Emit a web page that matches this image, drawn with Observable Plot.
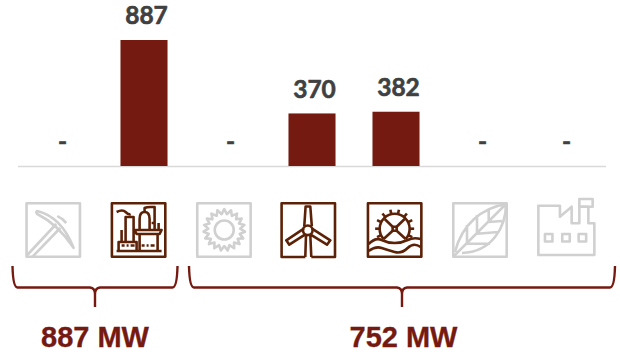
<!DOCTYPE html>
<html><head><meta charset="utf-8">
<style>html,body{margin:0;padding:0;background:#fff}svg{display:block}</style>
<script src="https://cdn.jsdelivr.net/npm/d3@7"></script>
<script src="https://cdn.jsdelivr.net/npm/@observablehq/plot@0.6"></script>
</head><body><div id="chart"></div>
<script>
const categories = ["Mining","Thermal","Solar","Wind","Hydro","Biomass","Industry"];
const values = [0,887,0,370,382,0,0];
const labels = ["-","887","-","370","382","-","-"];
const active = [false,true,false,true,true,false,false];
const groupLabels = ["887 MW","752 MW"];
const groupFirst = ["Mining","Solar"];
const groupLast = ["Thermal","Industry"];
const rows = categories.map((c,i)=>({c,v:values[i],l:labels[i]}));

const BRICK="#751a10", DARK="#5c2208", GRAY="#d0d0d0";
const box='<rect x="1.3" y="1.3" width="53.4" height="53.4"/>';
function sunPath(){let p=[];const n=19;for(let i=0;i<n*2;i++){const r=i%2?16:20.8,a=i*Math.PI/n;p.push((28.3+r*Math.sin(a)).toFixed(1)+","+(28-r*Math.cos(a)).toFixed(1));}return "M"+p.join("L")+"Z";}
function wheel(){let s="";for(let i=0;i<14;i++){const a=i*Math.PI/7;if(Math.sin(a)>0.55)continue;s+=`<path d="M${(28+15*Math.cos(a)).toFixed(1)},${(26.7+15*Math.sin(a)).toFixed(1)}L${(28+19.5*Math.cos(a)).toFixed(1)},${(26.7+19.5*Math.sin(a)).toFixed(1)}"/>`;}return s;}
const icons = {
Mining: box+'<path d="M2,53L31,22M7,55L35,26"/><path d="M12,9Q36,15 48,45Q49,47 47,44Q32,22 12,12Q10,10 12,9Z"/><path d="M32,14L37,17L41,21"/>',
Thermal: box+'<path d="M6,49H51M8,49V40H26V49M15,40V15H23V40M11,40V28M6,10Q12,7 15,10T20,12M29,49V32H47V49M24,28H51L49,32H26ZM29,28V17Q29,10 34,10Q39,10 39,17V28M34,10V6Q36,5 40,5H44V28M48,28V21M41,21H44"/><path d="M11,43.5H14M16,43.5H18M20,43.5H24M31,43.5H34M36,43.5H38M40,43.5H44" stroke-width="2.6"/>',
Solar: box+`<path d="${sunPath()}"/><circle cx="28.3" cy="28" r="9.5"/>`,
Wind: '<path d="M25,55H1.3V1.3H54.7V55H31"/><circle cx="27.5" cy="28.3" r="4.8"/><path d="M24,24L25.3,4.5H30L31.5,24M23.5,26.7L6,38.3L9,42.7L25,32.3M31.7,26.7L50,38.3L46.7,42.7L30,32.3M25.7,33L25,55M30,33L31,55"/>',
Hydro: box+'<path d="M17,37A15,15 0 1 1 39,37"/><rect x="26" y="24.7" width="4" height="4"/><path d="M18,17L26,24.7M38,17L30,24.7M26,28.7L17,37M30,28.7L39,37"/>'+wheel()+'<path d="M2,42Q9,35 15,38T28,41T41,38T54,37M2,49Q9,44 15,46T28,50T41,46T54,45"/>',
Biomass: box+'<path d="M54,2C30,6 10,22 3,50M54,2C54,25 40,50 10,51M2,54L54,2M15,41.7V23M25,31.7V13M36.7,20V7.7M15,41.7H38M25,31.7L46.7,30M36.7,20L50,19"/>',
Industry: '<path d="M1,56V6.7H22.6V17.7L34.3,7.7V24.3H42V7.7H51V24.3H57V56Z"/><rect x="42" y="0" width="13.3" height="7.7"/><rect x="7.6" y="35" width="7.5" height="7.5"/><rect x="24.9" y="35" width="7.5" height="7.5"/><rect x="41.3" y="35" width="7.5" height="7.5"/>'
};

function decorations(index,{x},values_,dims){
  const g=d3.create("svg:g");
  const c=k=>x(k)+x.bandwidth()/2;
  categories.forEach((k,i)=>{
    const cx=c(k)+(i-5)*1.35-(i===3?1:0);
    g.append("g").attr("transform",`translate(${cx-28},${i===6?199:202})`)
     .attr("fill","none").attr("stroke-width",2.6).attr("stroke",active[i]?DARK:GRAY)
     .attr("stroke-linejoin","round").html(icons[k]);
  });
  const pads=[[47.5,33.5],[39,51]];
  groupLabels.forEach((t,i)=>{
    const l=c(groupFirst[i])-pads[i][0], r=c(groupLast[i])+pads[i][1], m=(l+r)/2;
    g.append("path").attr("fill","none").attr("stroke",BRICK).attr("stroke-width",2.4)
     .attr("d",`M${l},266Q${l+.5},287.5 ${l+5},287.5H${m-5}Q${m},288 ${m},294V307M${m},294Q${m},288 ${m+5},287.5H${r-5}Q${r-.5},287.5 ${r},266`);
    g.append("text").attr("x",m+(i?1.5:0)).attr("y",347).attr("text-anchor","middle")
     .attr("font-family","Liberation Sans").attr("font-weight",700).attr("font-size",29)
     .attr("fill",BRICK).attr("stroke",BRICK).attr("stroke-width",0.3).text(t);
  });
  return g.node();
}

const chart = Plot.plot({
  width:620,height:356,
  marginLeft:18,marginRight:14,marginTop:40,marginBottom:190,
  x:{type:"band",domain:categories,paddingInner:.44,paddingOuter:.22,round:false,axis:null},
  y:{domain:[0,887],axis:null},
  marks:[
    Plot.ruleY([0],{stroke:"#d9d9d9",strokeWidth:1.3}),
    Plot.barY(rows,{x:"c",y:"v",fill:BRICK}),
    Plot.text(rows,{x:"c",y:"v",text:"l",dy:-24,dx:2,fontFamily:"Lato",fontWeight:700,fontSize:24.5,fill:"#404040",stroke:"#404040",strokeWidth:0.6,lineAnchor:"middle"}),
    decorations
  ]
});
document.getElementById("chart").append(chart);
</script></body></html>
